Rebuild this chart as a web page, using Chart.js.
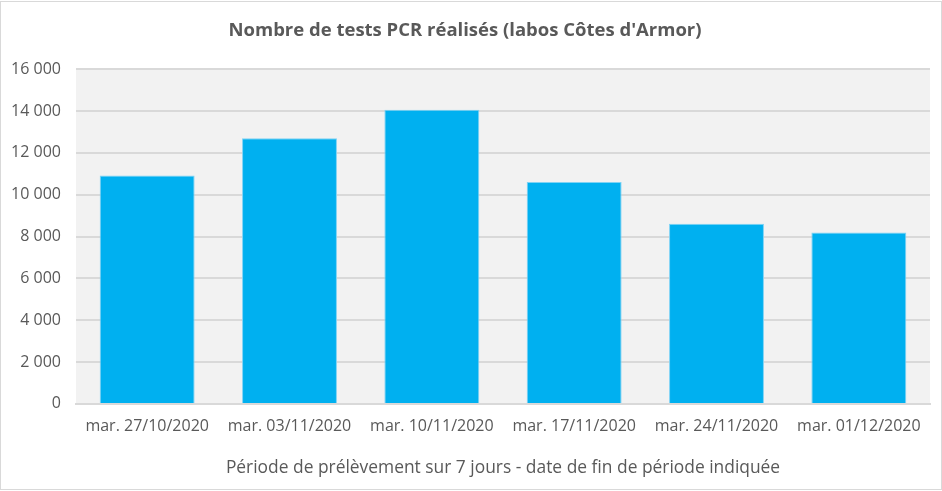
<!DOCTYPE html>
<html>
<head>
<meta charset="utf-8">
<script src="https://cdn.jsdelivr.net/npm/chart.js@4"></script>
<style>
  html, body { margin: 0; padding: 0; background: #fff; }
  #wrap { width: 942px; height: 491px; position: relative; }
</style>
</head>
<body>
<div id="wrap"><canvas id="myChart"></canvas></div>
<script>
const labels = ["mar. 27/10/2020", "mar. 03/11/2020", "mar. 10/11/2020", "mar. 17/11/2020", "mar. 24/11/2020", "mar. 01/12/2020"];
const tests = [10920, 12700, 14060, 10610, 8610, 8190];
const yTicks = [0, 2000, 4000, 6000, 8000, 10000, 12000, 14000, 16000];

const titleText = "Nombre de tests PCR réalisés (labos Côtes d'Armor)";
const xTitle = "Période de prélèvement sur 7 jours - date de fin de période indiquée";

const grey = "#595959";
const fontName = "'Open Sans', Lato, sans-serif";

function fmt(v) {
  return String(v).replace(/\B(?=(\d{3})+(?!\d))/g, " ");
}

// gray plot background + outer frame
const bgPlugin = {
  id: "bg",
  beforeDraw(chart) {
    const c = chart.ctx;
    const a = chart.chartArea;
    c.save();
    c.fillStyle = "#fff";
    c.fillRect(0, 0, chart.width, chart.height);
    c.fillStyle = "#f2f2f2";
    c.fillRect(a.left, a.top, a.right - a.left, a.bottom - a.top);
    c.strokeStyle = "#d9d9d9";
    c.lineWidth = 1;
    c.strokeRect(0.5, 1.5, chart.width - 1, chart.height - 3);
    c.restore();
  }
};

const ctx = document.getElementById("myChart").getContext("2d");
const myChart = new Chart(ctx, {
  type: "bar",
  data: {
    labels: labels,
    datasets: [
      {
        label: "Tests PCR",
        data: tests,
        backgroundColor: "#00b0f0",
        borderColor: "#7fd3f5",
        borderWidth: 1,
        barPercentage: 0.667,
        categoryPercentage: 1,
      },
    ],
  },
  options: {
    responsive: true,
    maintainAspectRatio: false,
    animation: false,
    layout: { padding: { top: 0, right: 12, bottom: 13, left: 0 } },
    plugins: {
      legend: { display: false },
      tooltip: { enabled: false },
      title: {
        display: true,
        text: titleText,
        color: grey,
        font: { family: fontName, size: 18.5, weight: "bold" },
        padding: { top: 20, bottom: 27 },
      },
    },
    scales: {
      x: {
        grid: { display: false, drawTicks: false },
        border: { display: true, color: "#d9d9d9", width: 2 },
        ticks: {
          color: grey,
          font: { family: fontName, size: 16 },
          padding: 13,
          maxRotation: 0,
          autoSkip: false,
        },
        title: {
          display: true,
          text: xTitle,
          color: grey,
          font: { family: fontName, size: 17.4 },
          padding: { top: 8, bottom: 0 },
        },
      },
      y: {
        min: 0,
        max: 16000,
        afterBuildTicks(axis) {
          axis.ticks = yTicks.map((v) => ({ value: v }));
        },
        afterFit(axis) {
          axis.width = 76;
        },
        grid: { color: "#d9d9d9", lineWidth: 2, drawTicks: false },
        border: { display: false },
        ticks: {
          color: grey,
          font: { family: fontName, size: 16 },
          padding: 15,
          callback: (v) => fmt(v),
        },
      },
    },
  },
  plugins: [bgPlugin],
});
</script>
</body>
</html>
